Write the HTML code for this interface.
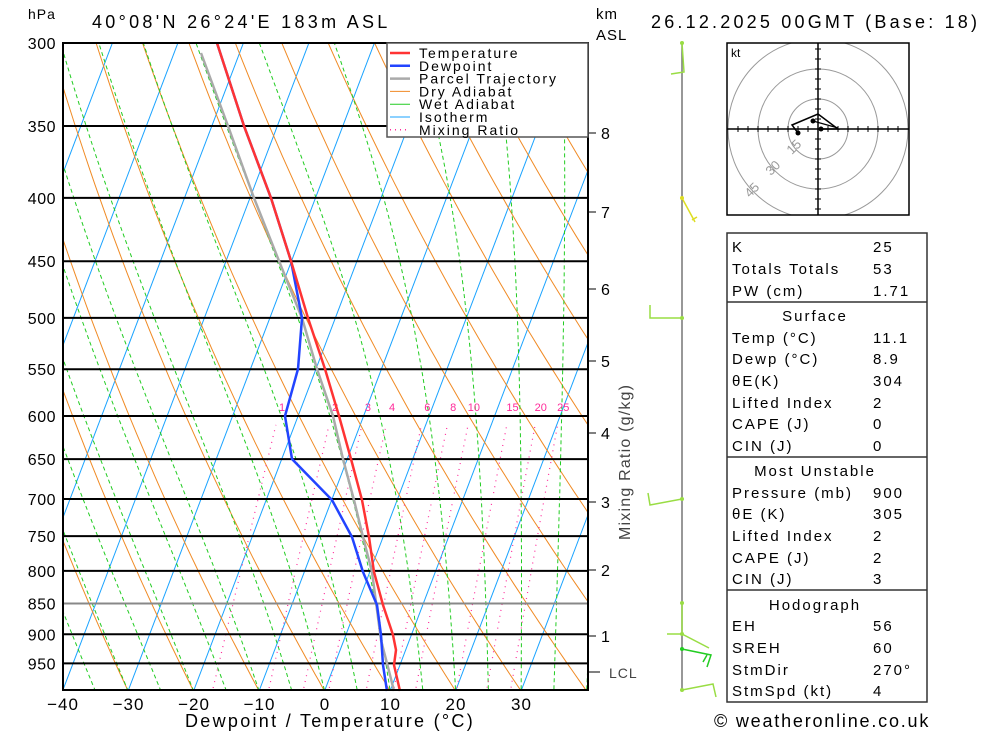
<!DOCTYPE html>
<html><head><meta charset="utf-8">
<style>
html,body{margin:0;padding:0;background:#fff;}
svg{display:block;font-family:"Liberation Sans",sans-serif;}
</style></head>
<body>
<svg id="s" width="1000" height="733" xmlns="http://www.w3.org/2000/svg">
<defs><clipPath id="cp"><rect x="63" y="43" width="525" height="647"/></clipPath>
<clipPath id="hc"><rect x="727" y="43" width="182" height="172"/></clipPath></defs>
<g id="bg" clip-path="url(#cp)"></g>
<g id="fg"></g>
</svg>
<script>
var NS="http://www.w3.org/2000/svg";
function el(p,t,a,txt){var e=document.createElementNS(NS,t);for(var k in a)e.setAttribute(k,a[k]);if(txt!==undefined)e.textContent=txt;p.appendChild(e);return e;}
var bg=document.getElementById('bg'),fg=document.getElementById('fg');
function Y(p){return 43+538.2*Math.log(p/300);}
function X(T,p){return 63+(T+40)*6.55+0.38*(690-Y(p));}
function line(g,pts,st){var d=pts.map(function(q,i){return (i?'L':'M')+q[0].toFixed(1)+' '+q[1].toFixed(1);}).join(' ');return el(g,'path',Object.assign({d:d,fill:'none'},st));}
var ps=[];for(var p=1050;p>=290;p-=10)ps.push(p);
for(var T=-120;T<=50;T+=10){line(bg,[[X(T,1050),Y(1050)],[X(T,290),Y(290)]],{stroke:'#1aa3ff','stroke-width':1});}
for(var T0=-60;T0<=190;T0+=10){var th=T0+273.15;line(bg,ps.map(function(p){return [X(th*Math.pow(p/1000,0.286)-273.15,p),Y(p)];}),{stroke:'#f08a24','stroke-width':1});}
function es(T){return 6.112*Math.exp(17.67*T/(T+243.5));}
function rs(T,p){var e=es(T);return 0.622*e/(p-e);}
function dT(Tk,p){var r=rs(Tk-273.15,p);return (287*Tk+2.5e6*r)/(p*(1004+2.5e6*2.5e6*r*0.622/(287*Tk*Tk)));}
for(var W=-40;W<=40;W+=5){var Tk=W+273.15,pp,t2=Tk;
 for(pp=1000;pp<1050;pp+=5){t2+=dT(t2,pp)*5;}
 var pts=[[X(t2-273.15,1050),Y(1050)],[X(Tk-273.15,1000),Y(1000)]];
 t2=Tk;
 for(pp=1000;pp>290;pp-=5){t2-=dT(t2,pp)*5;if(pp%10==5)pts.push([X(t2-273.15,pp-5),Y(pp-5)]);}
 line(bg,pts,{stroke:'#22cc22','stroke-width':1,'stroke-dasharray':'4,3'});}
var mr=[1,2,3,4,6,8,10,15,20,25];
function tdm(r,p){var e=r*p/(622+r);var l=Math.log(e/6.112);return 243.5*l/(17.67-l);}
mr.forEach(function(r){var pts=[];for(var p=1050;p>=610;p-=10)pts.push([X(tdm(r,p),p),Y(p)]);
 line(bg,pts,{stroke:'#ff2a9a','stroke-width':1.2,'stroke-dasharray':'1,5'});
 el(fg,'text',{x:X(tdm(r,600),600)+4,y:411,'font-size':11,fill:'#ff2a9a','text-anchor':'middle'},String(r));});
[300,350,400,450,500,550,600,650,700,750,800,850,900,950].forEach(function(p){var y=Y(p);
 el(fg,'line',{x1:63,x2:588,y1:y,y2:y,stroke:p==850?'#888':'#000','stroke-width':2});
 el(fg,'text',{x:56,y:y+6,'font-size':16,'text-anchor':'end',fill:'#000','letter-spacing':'0.5'},String(p));});
line(fg,[[394,691],[390,675],[381,640],[372,572],[363,537],[354,500],[343,459],[333,416],[317,369],[302,318],[279,261],[254,198],[228,126],[201,53]],{stroke:'#aaa','stroke-width':2.5});
line(fg,[[387,691],[383,665],[381,635],[377,605],[363,572],[352,537],[332,500],[292,459],[285,416],[298,369],[302,318],[291,261],[271,198],[244,126],[217,43]],{stroke:'#2244ff','stroke-width':2.5});
line(fg,[[400,691],[394,665],[396,650],[393,635],[383,605],[374,572],[369,537],[362,500],[351,459],[339,416],[325,369],[308,318],[291,261],[271,198],[244,126],[217,43]],{stroke:'#ff3333','stroke-width':2.5});
el(fg,'rect',{x:63,y:43,width:525,height:647,fill:'none',stroke:'#000','stroke-width':2});
[-40,-30,-20,-10,0,10,20,30].forEach(function(t){el(fg,'text',{x:63+(t+40)*6.55,y:710,'font-size':17,'text-anchor':'middle','letter-spacing':'1'},(t<0?'\u2212':'')+Math.abs(t));});
el(fg,'text',{x:330,y:727,'font-size':18,'text-anchor':'middle','letter-spacing':'2.3'},'Dewpoint / Temperature (°C)');
el(fg,'text',{x:28,y:19,'font-size':14,'letter-spacing':'1'},'hPa');
el(fg,'text',{x:92,y:28,'font-size':18,'letter-spacing':'3.3'},"40°08'N 26°24'E 183m ASL");
el(fg,'text',{x:596,y:19,'font-size':15,'letter-spacing':'1'},'km');
el(fg,'text',{x:596,y:40,'font-size':15,'letter-spacing':'1'},'ASL');
el(fg,'text',{x:651,y:28,'font-size':18,'letter-spacing':'3.2'},'26.12.2025 00GMT (Base: 18)');
[[8,133],[7,212],[6,289],[5,361],[4,433],[3,502],[2,570],[1,636]].forEach(function(k){el(fg,'line',{x1:588,x2:596,y1:k[1],y2:k[1],stroke:'#000'});el(fg,'text',{x:601,y:k[1]+6,'font-size':16},String(k[0]));});
el(fg,'line',{x1:588,x2:600,y1:672,y2:672,stroke:'#000'});
el(fg,'text',{x:609,y:678,'font-size':14,fill:'#444','letter-spacing':'1'},'LCL');
el(fg,'text',{x:0,y:0,'font-size':16,fill:'#444',transform:'translate(630,540) rotate(-90)','letter-spacing':'1.2'},'Mixing Ratio (g/kg)');
var lg=el(fg,'g',{});
el(lg,'rect',{x:387,y:43,width:201,height:94,fill:'#fff',stroke:'#555','stroke-width':1.5});
[['Temperature','#ff3333',2.5,''],['Dewpoint','#2244ff',2.5,''],['Parcel Trajectory','#aaa',2.5,''],['Dry Adiabat','#f08a24',1,''],['Wet Adiabat','#22cc22',1,''],['Isotherm','#1aa3ff',1,''],['Mixing Ratio','#ff2a9a',1.5,'1,4']].forEach(function(l,i){var y=53+i*12.8;
 el(lg,'line',{x1:390,x2:410,y1:y,y2:y,stroke:l[1],'stroke-width':l[2],'stroke-dasharray':l[3]});
 el(lg,'text',{x:419,y:y+5,'font-size':14,'letter-spacing':'2'},l[0]);});
el(fg,'line',{x1:682,x2:682,y1:43,y2:690,stroke:'#777','stroke-width':1.5});
function pl(d,c,w){el(fg,'path',{d:d,fill:'none',stroke:c,'stroke-width':w||1.5});}
pl('M682 43 L684 72 L671 74','#99dd44');
pl('M682 198 L695 222 M692 220 L697 217','#dddd22');
pl('M682 318 L650 318 L650 305','#99dd44');
pl('M682 499 L650 505 L648 493','#99dd44');
pl('M682 603 L682 634','#99dd44');
pl('M682 634 L709 648 M667 634 L682 634','#99dd44');
pl('M682 649 L711 655 L707 667 M707 655 L703 662','#22cc22');
pl('M682 690 L713 684 L716 697','#99dd44');
[[682,43,'#99dd44'],[682,198,'#dddd22'],[682,318,'#99dd44'],[682,499,'#99dd44'],[682,603,'#99dd44'],[682,634,'#99dd44'],[682,649,'#22cc22'],[682,690,'#99dd44']].forEach(function(d){el(fg,'circle',{cx:d[0],cy:d[1],r:2,fill:d[2]});});
var h=el(fg,'g',{});
var hc=el(h,'g',{'clip-path':'url(#hc)'});
[30,60,90].forEach(function(r){el(hc,'circle',{cx:818,cy:129,r:r,fill:'none',stroke:'#999','stroke-width':1});});
el(h,'line',{x1:727,x2:909,y1:129,y2:129,stroke:'#000','stroke-width':1.5});
el(h,'line',{x1:818,x2:818,y1:43,y2:215,stroke:'#000','stroke-width':1.5});
for(var i=-8;i<=8;i++){if(!i)continue;el(h,'line',{x1:818+i*10,x2:818+i*10,y1:126,y2:132,stroke:'#000'});el(h,'line',{x1:815,x2:821,y1:129+i*10,y2:129+i*10,stroke:'#000'});}
el(h,'rect',{x:727,y:43,width:182,height:172,fill:'none',stroke:'#000','stroke-width':1.5});
el(h,'text',{x:731,y:57,'font-size':12},'kt');
[['15',797,150],['30',776,171],['45',755,193]].forEach(function(t){el(h,'text',{x:t[1],y:t[2],'font-size':13,fill:'#999',transform:'rotate(-45 '+t[1]+' '+t[2]+')','text-anchor':'middle'},t[0]);});
pl('M820 129 L838 129 L818 114 L792 125 L798 133','#000',1.5);
pl('M813 121 L838 128','#000',1.2);
[[798,133],[813,121],[821,129]].forEach(function(c){el(h,'circle',{cx:c[0],cy:c[1],r:2.5,fill:'#000'});});
var t=el(fg,'g',{});
el(t,'rect',{x:727,y:233,width:200,height:469,fill:'none',stroke:'#333','stroke-width':1.5});
[302,457,590].forEach(function(y){el(t,'line',{x1:727,x2:927,y1:y,y2:y,stroke:'#333','stroke-width':1.5});});
var rows=[[246,'K','25'],[268,'Totals Totals','53'],[290,'PW (cm)','1.71'],[315,'Surface',null],[337,'Temp (°C)','11.1'],[358,'Dewp (°C)','8.9'],[380,'θE(K)','304'],[402,'Lifted Index','2'],[423,'CAPE (J)','0'],[445,'CIN (J)','0'],[470,'Most Unstable',null],[492,'Pressure (mb)','900'],[513,'θE (K)','305'],[535,'Lifted Index','2'],[557,'CAPE (J)','2'],[578,'CIN (J)','3'],[604,'Hodograph',null],[625,'EH','56'],[647,'SREH','60'],[669,'StmDir','270°'],[690,'StmSpd (kt)','4']];
rows.forEach(function(r){if(r[2]===null){el(t,'text',{x:815,y:r[0]+6,'font-size':15,'text-anchor':'middle','letter-spacing':'2'},r[1]);}
 else{el(t,'text',{x:732,y:r[0]+6,'font-size':15,'letter-spacing':'2'},r[1]);el(t,'text',{x:873,y:r[0]+6,'font-size':15,'letter-spacing':'2'},r[2]);}});
el(fg,'text',{x:714,y:727,'font-size':18,'letter-spacing':'1.8'},'© weatheronline.co.uk');
</script>
</body></html>
